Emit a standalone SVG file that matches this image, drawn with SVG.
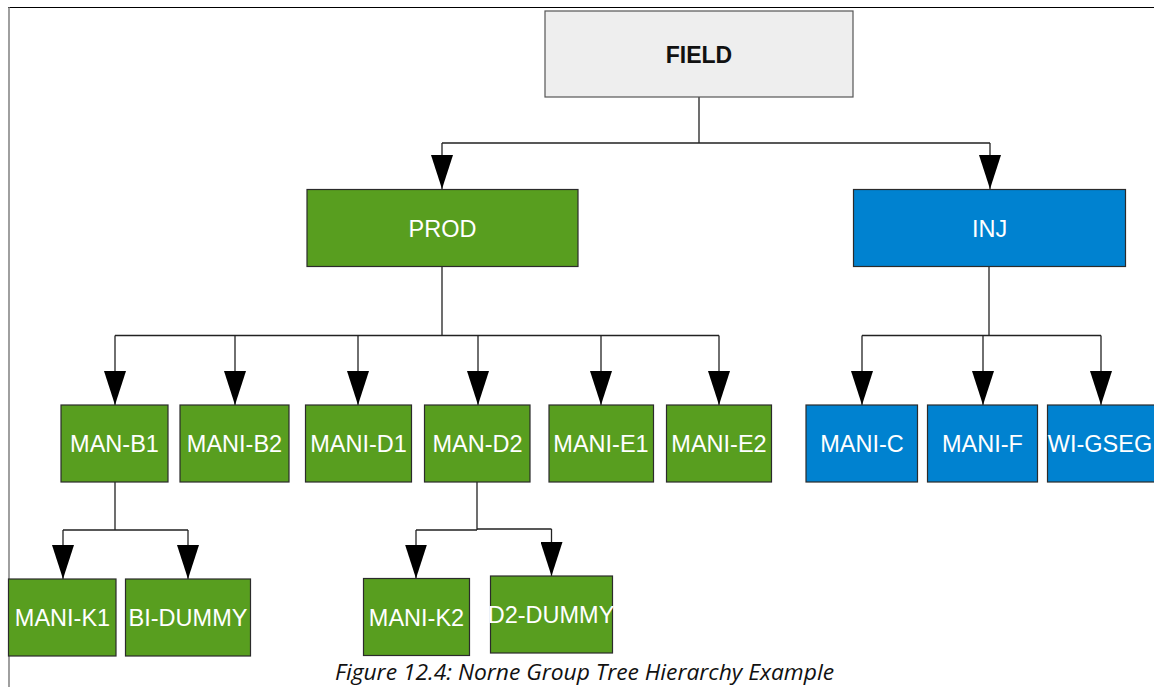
<svg xmlns="http://www.w3.org/2000/svg" width="1154" height="687" viewBox="0 0 1154 687">
<defs>
<marker id="arr" markerUnits="userSpaceOnUse" viewBox="0 0 34 22" markerWidth="34" markerHeight="22" refX="34" refY="11" orient="auto">
<path d="M0,0 L34,11 L0,22 Z" fill="#000"/>
</marker>
<style>
.g{fill:#589e1f;stroke:#2b2b2b;stroke-width:1.2}
.b{fill:#0082d0;stroke:#2b2b2b;stroke-width:1.2}
.t{font-family:"Liberation Sans",Arial,sans-serif;font-size:23.5px;fill:#fff;text-anchor:middle}
.c{fill:none;stroke:#222;stroke-width:1.3}
.a{fill:none;stroke:#222;stroke-width:1.3;marker-end:url(#arr)}
</style>
</defs>
<rect width="1154" height="687" fill="#fff"/>
<line x1="8" y1="7.5" x2="1154" y2="7.5" stroke="#000" stroke-width="1.2"/>
<line x1="9" y1="7" x2="9" y2="687" stroke="#777" stroke-width="1.4"/>

<g id="connectors">
<path class="c" d="M699,97 V143 M442,143 H990"/>
<path class="a" d="M442,143 V189"/>
<path class="a" d="M990,143 V189"/>
<path class="c" d="M442,266 V335.5 M115,335.5 H719"/>
<path class="a" d="M115,335.5 V405"/>
<path class="a" d="M235,335.5 V405"/>
<path class="a" d="M358,335.5 V405"/>
<path class="a" d="M478,335.5 V405"/>
<path class="a" d="M601,335.5 V405"/>
<path class="a" d="M719,335.5 V405"/>
<path class="c" d="M989,266 V335.5 M862,335.5 H1101"/>
<path class="a" d="M862,335.5 V405"/>
<path class="a" d="M983,335.5 V405"/>
<path class="a" d="M1101,335.5 V405"/>
<path class="c" d="M115,482 V530 M63,530 H188"/>
<path class="a" d="M63,530 V579"/>
<path class="a" d="M188,530 V579"/>
<path class="c" d="M477,482 V530 M416,530 H477 M477,529 H551.5"/>
<path class="a" d="M416,530 V578.5"/>
<path class="a" d="M551.5,529 V576"/>
</g>

<g id="FIELD"><rect x="545" y="11" width="308" height="86" fill="#eeeeee" stroke="#555" stroke-width="1.2"/><text x="699" y="63" font-family="Liberation Sans,Arial,sans-serif" font-size="23" font-weight="bold" fill="#111" text-anchor="middle">FIELD</text></g>
<g id="PROD"><rect class="g" x="307" y="189.5" width="271" height="77"/><text class="t" x="442.5" y="237">PROD</text></g>
<g id="INJ"><rect class="b" x="853.5" y="189.5" width="272" height="77"/><text class="t" x="989.5" y="237">INJ</text></g>

<g id="MAN-B1"><rect class="g" x="61" y="405" width="107" height="77"/><text class="t" x="114.5" y="452">MAN-B1</text></g>
<g id="MANI-B2"><rect class="g" x="180" y="405" width="109" height="77"/><text class="t" x="234.5" y="452">MANI-B2</text></g>
<g id="MANI-D1"><rect class="g" x="305.5" y="405" width="106" height="77"/><text class="t" x="358.5" y="452">MANI-D1</text></g>
<g id="MAN-D2"><rect class="g" x="424.5" y="405" width="105.5" height="77"/><text class="t" x="477.5" y="452">MAN-D2</text></g>
<g id="MANI-E1"><rect class="g" x="549" y="405" width="104.5" height="77"/><text class="t" x="601" y="452">MANI-E1</text></g>
<g id="MANI-E2"><rect class="g" x="666.5" y="405" width="105" height="77"/><text class="t" x="719" y="452">MANI-E2</text></g>
<g id="MANI-C"><rect class="b" x="806" y="405" width="111.5" height="77"/><text class="t" x="862" y="452">MANI-C</text></g>
<g id="MANI-F"><rect class="b" x="927.5" y="405" width="110" height="77"/><text class="t" x="982.5" y="452">MANI-F</text></g>
<g id="WI-GSEG"><rect class="b" x="1047.5" y="405" width="108" height="77"/><text class="t" x="1100" y="452">WI-GSEG</text></g>

<g id="MANI-K1"><rect class="g" x="8.5" y="579" width="107.5" height="77"/><text class="t" x="62.5" y="626">MANI-K1</text></g>
<g id="BI-DUMMY"><rect class="g" x="125.5" y="579" width="125" height="77"/><text class="t" x="188" y="626">BI-DUMMY</text></g>
<g id="MANI-K2"><rect class="g" x="363.5" y="578.5" width="106" height="77"/><text class="t" x="416.5" y="626">MANI-K2</text></g>
<g id="D2-DUMMY"><rect class="g" x="490.5" y="576" width="122" height="77"/><text class="t" x="551" y="623">D2-DUMMY</text></g>

<text x="335" y="680" font-family="Open Sans,Liberation Sans,sans-serif" font-style="italic" font-size="21" fill="#111" textLength="499" lengthAdjust="spacingAndGlyphs">Figure 12.4: Norne Group Tree Hierarchy Example</text>
</svg>
